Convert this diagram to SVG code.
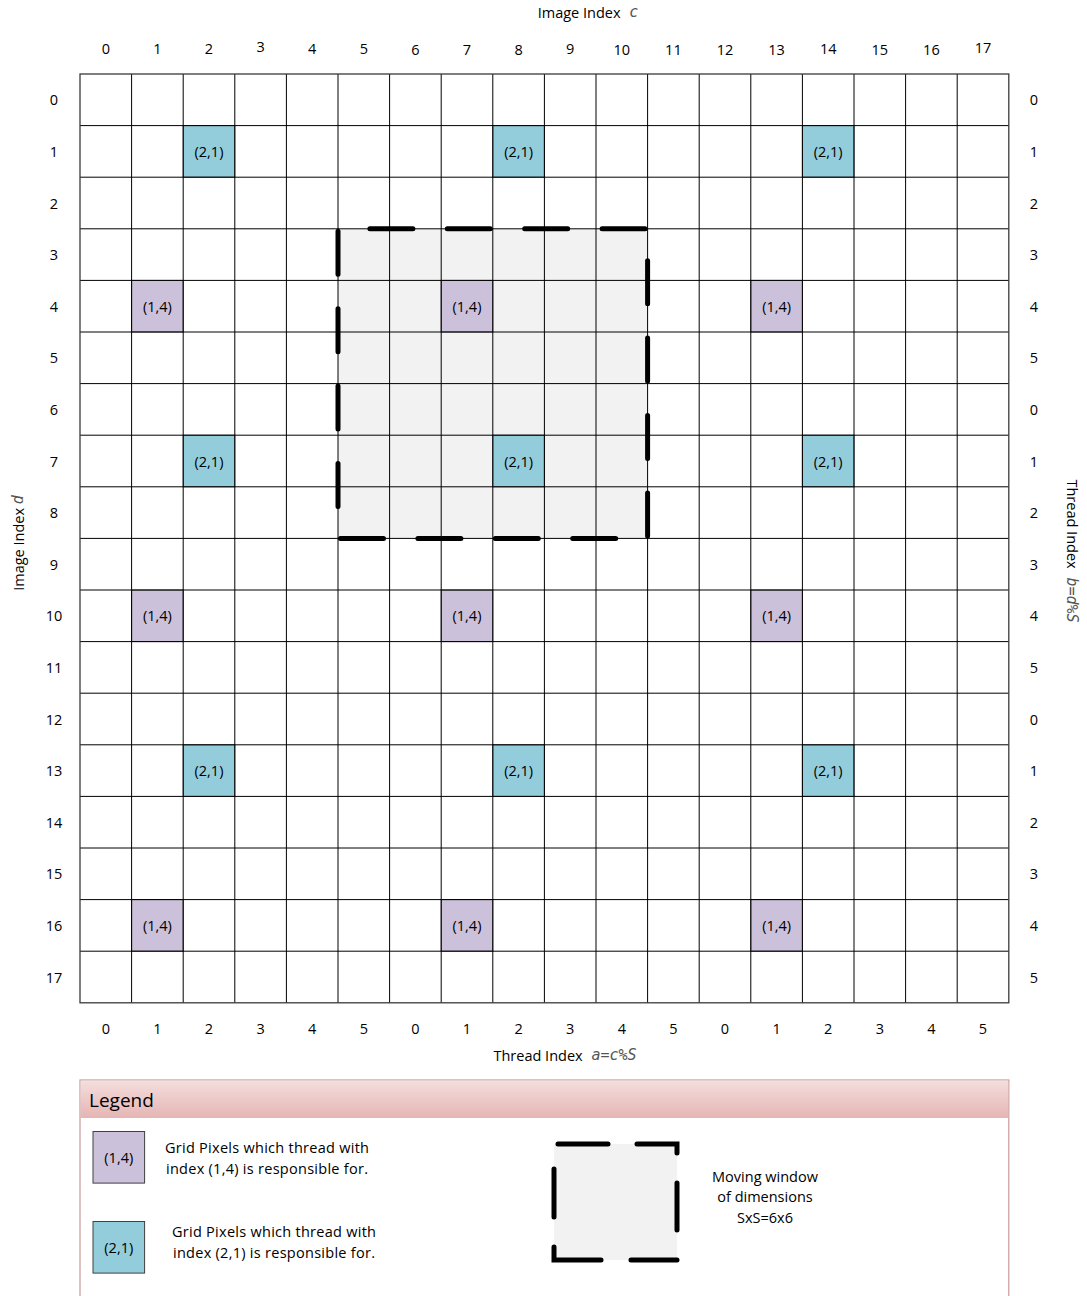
<svg xmlns="http://www.w3.org/2000/svg" width="1087" height="1296" viewBox="0 0 1087 1296">
<style>
text{font-family:"Open Sans","Noto Sans","Liberation Sans",sans-serif;font-size:14.5px;fill:#000}
.c{text-anchor:middle;dominant-baseline:central}
.m{font-family:"DejaVu Sans Mono","Liberation Mono",monospace;font-style:italic;fill:#555;font-size:15px}
.teal{fill:#93cddc;stroke:#404040;stroke-width:1}
.purp{fill:#ccc1da;stroke:#404040;stroke-width:1}
.grid{stroke:#000;stroke-width:1;fill:none}
.dash{stroke:#000;stroke-width:5;stroke-linecap:round;fill:none}
</style>
<defs>
<linearGradient id="hdr" x1="0" y1="0" x2="0" y2="1">
<stop offset="0" stop-color="#f4dedd"/>
<stop offset="1" stop-color="#e5b5b3"/>
</linearGradient>
</defs>
<rect width="1087" height="1296" fill="#fff"/>

<!-- axis titles -->
<text x="588" y="12" class="c">Image Index <tspan class="m" dx="5">c</tspan></text>
<text x="565" y="1055" class="c">Thread Index <tspan class="m" dx="5">a=c%S</tspan></text>
<text transform="translate(18,543) rotate(-90)" class="c">Image Index <tspan class="m">d</tspan></text>
<text transform="translate(1072,551) rotate(90)" class="c">Thread Index <tspan class="m" dx="5">b=d%S</tspan></text>

<!-- moving window fill -->
<rect id="window-fill" x="338" y="228.8" width="309.6" height="309.6" fill="#f2f2f2"/>

<!-- coloured cells -->
<g id="cells-21">
<rect class="teal" x="183.2" y="125.6" width="51.6" height="51.6"/>
<rect class="teal" x="492.8" y="125.6" width="51.6" height="51.6"/>
<rect class="teal" x="802.4" y="125.6" width="51.6" height="51.6"/>
<rect class="teal" x="183.2" y="435.2" width="51.6" height="51.6"/>
<rect class="teal" x="492.8" y="435.2" width="51.6" height="51.6"/>
<rect class="teal" x="802.4" y="435.2" width="51.6" height="51.6"/>
<rect class="teal" x="183.2" y="744.8" width="51.6" height="51.6"/>
<rect class="teal" x="492.8" y="744.8" width="51.6" height="51.6"/>
<rect class="teal" x="802.4" y="744.8" width="51.6" height="51.6"/>
</g>
<g id="cells-14">
<rect class="purp" x="131.6" y="280.4" width="51.6" height="51.6"/>
<rect class="purp" x="441.2" y="280.4" width="51.6" height="51.6"/>
<rect class="purp" x="750.8" y="280.4" width="51.6" height="51.6"/>
<rect class="purp" x="131.6" y="590" width="51.6" height="51.6"/>
<rect class="purp" x="441.2" y="590" width="51.6" height="51.6"/>
<rect class="purp" x="750.8" y="590" width="51.6" height="51.6"/>
<rect class="purp" x="131.6" y="899.6" width="51.6" height="51.6"/>
<rect class="purp" x="441.2" y="899.6" width="51.6" height="51.6"/>
<rect class="purp" x="750.8" y="899.6" width="51.6" height="51.6"/>
</g>

<!-- grid -->
<g id="grid" class="grid">
<path d="M131.6,74V1002.8M183.2,74V1002.8M234.8,74V1002.8M286.4,74V1002.8M338,74V1002.8M389.6,74V1002.8M441.2,74V1002.8M492.8,74V1002.8M544.4,74V1002.8M596,74V1002.8M647.6,74V1002.8M699.2,74V1002.8M750.8,74V1002.8M802.4,74V1002.8M854,74V1002.8M905.6,74V1002.8M957.2,74V1002.8"/>
<path d="M80,125.6H1008.8M80,177.2H1008.8M80,228.8H1008.8M80,280.4H1008.8M80,332H1008.8M80,383.6H1008.8M80,435.2H1008.8M80,486.8H1008.8M80,538.4H1008.8M80,590H1008.8M80,641.6H1008.8M80,693.2H1008.8M80,744.8H1008.8M80,796.4H1008.8M80,848H1008.8M80,899.6H1008.8M80,951.2H1008.8"/>
<rect x="80" y="74" width="928.8" height="928.8" stroke="#3a3a3a" stroke-width="1.3"/>
</g>

<!-- cell labels -->
<g id="cell-labels">
<text class="c" x="209" y="151.4">(2,1)</text>
<text class="c" x="518.6" y="151.4">(2,1)</text>
<text class="c" x="828.2" y="151.4">(2,1)</text>
<text class="c" x="209" y="461">(2,1)</text>
<text class="c" x="518.6" y="461">(2,1)</text>
<text class="c" x="828.2" y="461">(2,1)</text>
<text class="c" x="209" y="770.6">(2,1)</text>
<text class="c" x="518.6" y="770.6">(2,1)</text>
<text class="c" x="828.2" y="770.6">(2,1)</text>
<text class="c" x="157.4" y="306.2">(1,4)</text>
<text class="c" x="467" y="306.2">(1,4)</text>
<text class="c" x="776.6" y="306.2">(1,4)</text>
<text class="c" x="157.4" y="615.8">(1,4)</text>
<text class="c" x="467" y="615.8">(1,4)</text>
<text class="c" x="776.6" y="615.8">(1,4)</text>
<text class="c" x="157.4" y="925.4">(1,4)</text>
<text class="c" x="467" y="925.4">(1,4)</text>
<text class="c" x="776.6" y="925.4">(1,4)</text>
</g>

<!-- moving window dashed border -->
<g id="window">
<path class="dash" d="M338,228.8H647.6V538.4H338Z" stroke-dasharray="43 34.4" stroke-dashoffset="45.5"/>
</g>

<!-- top column labels -->
<g id="top-labels">
<text class="c" x="105.8" y="48">0</text><text class="c" x="157.4" y="48">1</text><text class="c" x="209" y="48">2</text><text class="c" x="260.6" y="46">3</text><text class="c" x="312.2" y="48">4</text><text class="c" x="363.8" y="48">5</text><text class="c" x="415.4" y="49">6</text><text class="c" x="467" y="49">7</text><text class="c" x="518.6" y="49">8</text><text class="c" x="570.2" y="48">9</text><text class="c" x="621.8" y="49">10</text><text class="c" x="673.4" y="49">11</text><text class="c" x="725" y="49">12</text><text class="c" x="776.6" y="49">13</text><text class="c" x="828.2" y="48">14</text><text class="c" x="879.8" y="49">15</text><text class="c" x="931.4" y="49">16</text><text class="c" x="983" y="47">17</text>
</g>
<!-- left row labels -->
<g id="left-labels">
<text class="c" x="54" y="99.8">0</text><text class="c" x="54" y="151.4">1</text><text class="c" x="54" y="203">2</text><text class="c" x="54" y="254.6">3</text><text class="c" x="54" y="306.2">4</text><text class="c" x="54" y="357.8">5</text><text class="c" x="54" y="409.4">6</text><text class="c" x="54" y="461">7</text><text class="c" x="54" y="512.6">8</text><text class="c" x="54" y="564.2">9</text><text class="c" x="54" y="615.8">10</text><text class="c" x="54" y="667.4">11</text><text class="c" x="54" y="719">12</text><text class="c" x="54" y="770.6">13</text><text class="c" x="54" y="822.2">14</text><text class="c" x="54" y="873.8">15</text><text class="c" x="54" y="925.4">16</text><text class="c" x="54" y="977">17</text>
</g>
<!-- right thread labels -->
<g id="right-labels">
<text class="c" x="1034" y="99.8">0</text><text class="c" x="1034" y="151.4">1</text><text class="c" x="1034" y="203">2</text><text class="c" x="1034" y="254.6">3</text><text class="c" x="1034" y="306.2">4</text><text class="c" x="1034" y="357.8">5</text><text class="c" x="1034" y="409.4">0</text><text class="c" x="1034" y="461">1</text><text class="c" x="1034" y="512.6">2</text><text class="c" x="1034" y="564.2">3</text><text class="c" x="1034" y="615.8">4</text><text class="c" x="1034" y="667.4">5</text><text class="c" x="1034" y="719">0</text><text class="c" x="1034" y="770.6">1</text><text class="c" x="1034" y="822.2">2</text><text class="c" x="1034" y="873.8">3</text><text class="c" x="1034" y="925.4">4</text><text class="c" x="1034" y="977">5</text>
</g>
<!-- bottom thread labels -->
<g id="bottom-labels">
<text class="c" x="105.8" y="1028">0</text><text class="c" x="157.4" y="1028">1</text><text class="c" x="209" y="1028">2</text><text class="c" x="260.6" y="1028">3</text><text class="c" x="312.2" y="1028">4</text><text class="c" x="363.8" y="1028">5</text><text class="c" x="415.4" y="1028">0</text><text class="c" x="467" y="1028">1</text><text class="c" x="518.6" y="1028">2</text><text class="c" x="570.2" y="1028">3</text><text class="c" x="621.8" y="1028">4</text><text class="c" x="673.4" y="1028">5</text><text class="c" x="725" y="1028">0</text><text class="c" x="776.6" y="1028">1</text><text class="c" x="828.2" y="1028">2</text><text class="c" x="879.8" y="1028">3</text><text class="c" x="931.4" y="1028">4</text><text class="c" x="983" y="1028">5</text>
</g>

<!-- legend -->
<g id="legend">
<rect x="80" y="1080" width="928.8" height="230" fill="#fff" stroke="#c99a99" stroke-width="1.2"/>
<rect x="80.6" y="1080.6" width="927.6" height="37.4" fill="url(#hdr)"/>
<text x="89" y="1100" dominant-baseline="central" style="font-size:19px">Legend</text>
</g>
<g id="legend-14">
<rect class="purp" x="93" y="1131.5" width="51.6" height="51.6"/>
<text class="c" x="118.8" y="1157.3">(1,4)</text>
<text x="165" y="1147" dominant-baseline="central" textLength="204">Grid Pixels which thread with</text>
<text x="166" y="1168" dominant-baseline="central" textLength="202">index (1,4) is responsible for.</text>
</g>
<g id="legend-21">
<rect class="teal" x="93" y="1221.5" width="51.6" height="51.6"/>
<text class="c" x="118.8" y="1247.3">(2,1)</text>
<text x="172" y="1231" dominant-baseline="central" textLength="204">Grid Pixels which thread with</text>
<text x="173" y="1252" dominant-baseline="central" textLength="202">index (2,1) is responsible for.</text>
</g>
<g id="legend-window">
<rect x="554" y="1144" width="123" height="116" fill="#f2f2f2"/>
<path class="dash" d="M558,1144H608M637,1144H677V1153M677,1183V1230M554,1169V1217M554,1247V1260H601M631,1260H677"/>
<text class="c" x="765" y="1176">Moving window</text>
<text class="c" x="765" y="1196">of dimensions</text>
<text class="c" x="765" y="1217">SxS=6x6</text>
</g>
</svg>
